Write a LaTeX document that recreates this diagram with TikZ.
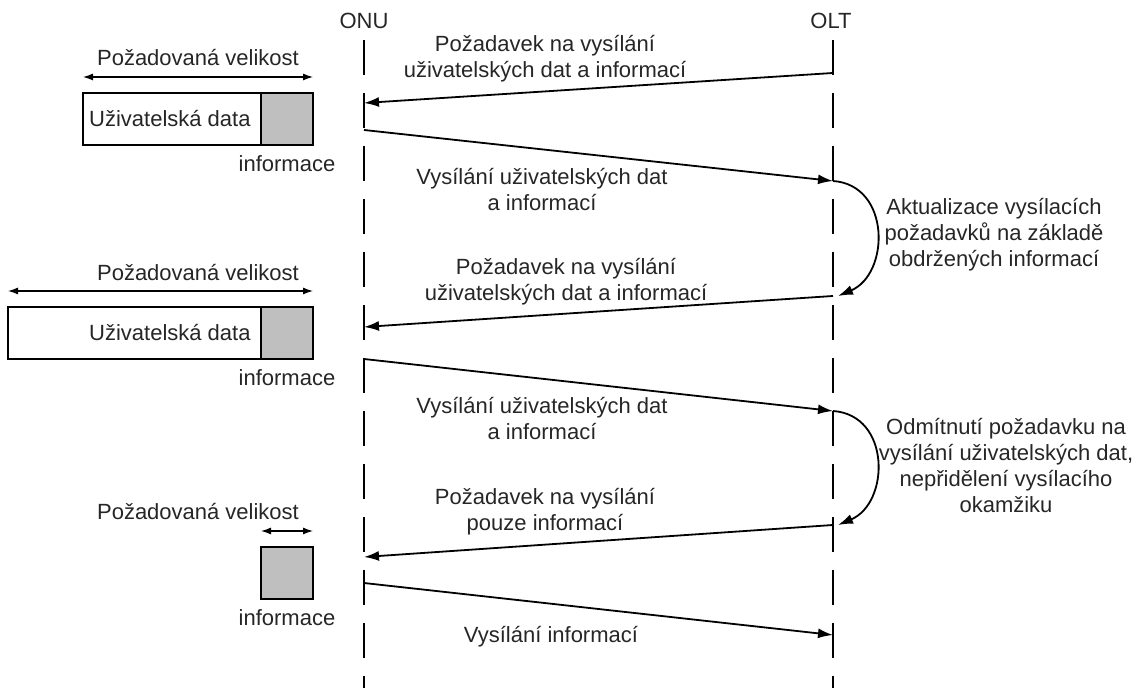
\documentclass[tikz,border=0pt]{standalone}
\usepackage{fontspec}
\setmainfont{Liberation Sans}
\usetikzlibrary{arrows.meta,positioning}
\tikzset{
    %Define standard arrow tip
    >={Latex[length=7.5pt,width=5pt]},
    %Define style for lifelines
    lifeline/.style={
           draw=black,
           line width=0.9pt,
           dash pattern=on 17.5pt off 9pt,
           },
    %Define style for texts
    lbl/.style={
           font=\fontsize{11}{13}\selectfont,
           text=black!85,
           align=center,
           inner sep=0pt,
           },
    %Define style for boxes
    datarect/.style={
           rectangle,
           draw=black, line width=1pt,
           outer sep=0pt,
           minimum height=26pt,
           fill=white,
           },
    inforect/.style={
           rectangle,
           draw=black, line width=1pt,
           outer sep=0pt,
           minimum width=26pt,
           minimum height=26pt,
           fill=black!25!white,
           },
    % Define arrow styles
    msg/.style={
           ->,
           line width=0.9pt,
           },
    dim/.style={
           {Latex[length=5pt,width=3.5pt]}-{Latex[length=5pt,width=3.5pt]},
           line width=0.6pt,
           },
}

\begin{document}
\begin{tikzpicture}[x=0.5pt,y=-0.5pt]
\useasboundingbox (0,0) rectangle (1141,688);

 %lifelines
\node[lbl](onu) at (364,21){ONU};
\node[lbl](olt) at (831,21){OLT};
\coordinate (onutop) at (364,40);
\coordinate (onubot) at (364,688);
\coordinate (olttop) at (833,40);
\coordinate (oltbot) at (833,688);
\draw[lifeline] (onutop) -- (onubot);
\draw[lifeline] (olttop) -- (oltbot);

 %message points
\coordinate (olt1) at (833,73);
\coordinate (onu1) at (364,103);
\coordinate (onu2) at (364,130);
\coordinate (olt2) at (833,181);
\coordinate (olt3) at (833,296);
\coordinate (onu3) at (364,327);
\coordinate (onu4) at (364,359);
\coordinate (olt4) at (833,411);
\coordinate (olt5) at (833,525);
\coordinate (onu5) at (364,557);
\coordinate (onu6) at (364,583);
\coordinate (olt6) at (833,635);

 %messages
\draw[msg] (olt1) -- (onu1);
\draw[msg] (onu2) -- (olt2);
\draw[msg] (olt2) .. controls +(58,4) and +(52,-22) .. ([xshift=2.5pt]olt3);
\draw[msg] (olt3) -- (onu3);
\draw[msg] (onu4) -- (olt4);
\draw[msg] (olt4) .. controls +(58,4) and +(52,-22) .. ([xshift=2.5pt]olt5);
\draw[msg] (olt5) -- (onu5);
\draw[msg] (onu6) -- (olt6);

\node[lbl](m1) at (545,59){Požadavek na vysílání\\uživatelských dat a informací};
\node[lbl](m2) at (542,190){Vysílání uživatelských dat\\a informací};
\node[lbl](m3) at (566,282){Požadavek na vysílání\\uživatelských dat a informací};
\node[lbl](m4) at (542,419){Vysílání uživatelských dat\\a informací};
\node[lbl](m5) at (545,512){Požadavek na vysílání\\pouze informací};
\node[lbl](m6) at (551,637){Vysílání informací};
\node[lbl](c1) at (994,235){Aktualizace vysílacích\\požadavků na základě\\obdržených informací};
\node[lbl](c2) at (1006,466){Odmítnutí požadavku na\\vysílání uživatelských dat,\\nepřidělení vysílacího\\okamžiku};

 %frames
\node[datarect, minimum width=89pt, anchor=north west](data1) at (83,93){};
\node[inforect, right=0pt of data1](info1){};
\node[lbl, left=5pt of info1.west](txt1){Uživatelská data};
\node[lbl, below=5pt of info1](inf1){informace};
\draw[dim] ([yshift=8pt]data1.north west) -- ([yshift=8pt]info1.north east);
\node[lbl](size1) at (198,58){Požadovaná velikost};

\node[datarect, minimum width=126.5pt, anchor=north west](data2) at (8,307){};
\node[inforect, right=0pt of data2](info2){};
\node[lbl, left=5pt of info2.west](txt2){Uživatelská data};
\node[lbl, below=5pt of info2](inf2){informace};
\draw[dim] ([yshift=8pt]data2.north west) -- ([yshift=8pt]info2.north east);
\node[lbl](size2) at (198,273){Požadovaná velikost};

\node[inforect, anchor=north west](info3) at (261,547){};
\node[lbl, below=5pt of info3](inf3){informace};
\draw[dim] ([yshift=8pt]info3.north west) -- ([yshift=8pt]info3.north east);
\node[lbl](size3) at (198,512){Požadovaná velikost};

\end{tikzpicture}
\end{document}
